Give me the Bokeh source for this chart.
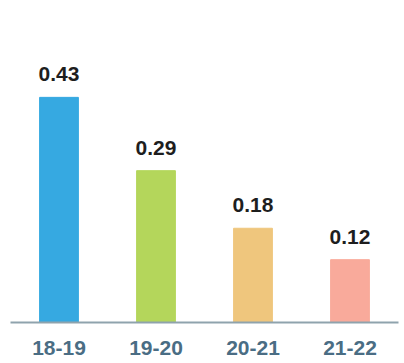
from bokeh.plotting import figure
from bokeh.models import Range1d, ColumnDataSource
from bokeh.core.properties import value
from bokeh.embed import file_html
from bokeh.resources import INLINE

# Season-over-season values
seasons = ["18-19", "19-20", "20-21", "21-22"]
values = [0.43, 0.29, 0.18, 0.12]
bar_colors = ["#36A9E1", "#B4D65B", "#EFC67D", "#F9AA9B"]
value_labels = ["0.43", "0.29", "0.18", "0.12"]

source = ColumnDataSource(dict(
    season=seasons,
    value=values,
    color=bar_colors,
    label=value_labels,
))

p = figure(
    x_range=seasons,
    y_range=Range1d(0, 0.615),
    width=404,
    height=363,
    output_backend="svg",
    toolbar_location=None,
    y_axis_location=None,
    min_border_left=10,
    min_border_right=6,
    min_border_top=0,
    min_border_bottom=41,
)

p.vbar(x="season", top="value", width=0.4, color="color", source=source)

p.text(
    x="season", y="value", text="label", source=source,
    text_align="center", text_baseline="middle", y_offset=-23,
    text_font=value("Liberation Sans"), text_font_style="bold",
    text_font_size="21px", text_color="#1E1E1E",
)

ax = p.xaxis[0]
ax.axis_line_color = "#8FA3AD"
ax.axis_line_width = 2
ax.major_tick_line_color = None
ax.minor_tick_line_color = None
ax.major_label_standoff = 12
ax.major_label_text_font = "Liberation Sans"
ax.major_label_text_font_style = "bold"
ax.major_label_text_font_size = "21px"
ax.major_label_text_color = "#4A6D84"

p.xgrid.grid_line_color = None
p.ygrid.grid_line_color = None
p.outline_line_color = None
p.background_fill_color = "white"
p.border_fill_color = "white"

open("out.html", "w").write(file_html(p, INLINE))
